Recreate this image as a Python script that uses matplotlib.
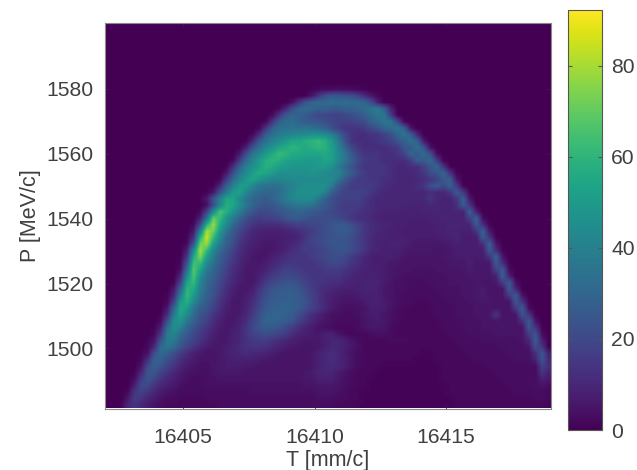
import matplotlib
matplotlib.use("Agg")
import matplotlib.pyplot as plt
import numpy as np

plt.rcParams['font.family'] = ['Liberation Sans', 'DejaVu Sans']

W, H = 637, 470
x_limits = [16402, 16419]
y_limits = [1481.5, 1600.3]
x_ticks = [16405, 16410, 16415]
y_ticks = [1500, 1520, 1540, 1560, 1580]
cbar_ticks = [0, 20, 40, 60, 80]
color_max = 92.3

# counts per bin, top row first; rows are padded with zeros to the right
p10 = [0]*31 + [1,2,3,3,4,3,3,2,1]
p11 = [0]*30 + [1,5,14,22,26,25,24,22,18,12,6,2]
p12 = [0]*28 + [4,14,24,30,32,32,33,32,33,32,32,30,22,8,1]
p13 = [0]*26 + [2,10,22,30,32,30,28,28,26,26,28,28,30,32,36,38,28,10]
p14 = [0]*25 + [3,14,26,30,28,26,22,20,20,18,18,20,22,24,28,32,36,38,22,4]
p15 = [0]*24 + [2,14,28,32,32,30,26,26,24,22,20,18,18,18,20,22,28,32,38,38,18,2]
p16 = [0]*23 + [2,14,28,34,34,36,34,36,34,32,28,22,18,14,14,14,16,20,24,30,34,34,14,2]
p17 = [0]*22 + [2,12,28,34,38,40,42,44,44,46,46,44,40,30,20,14,12,12,14,14,18,22,28,36,32,12,1]
p18 = [0]*21 + [1,10,26,34,40,44,50,54,54,58,60,62,58,50,38,24,14,12,12,12,14,16,18,24,32,34,10,1]
p19 = [0]*20 + [1,8,24,34,42,48,54,56,60,58,56,58,60,58,52,42,30,20,14,12,12,12,12,14,16,24,34,28,6]
p20 = [0]*20 + [6,22,36,42,50,56,62,60,56,56,54,54,54,56,52,44,36,26,18,14,14,14,12,12,14,18,30,32,16,2]
p21 = [0]*19 + [2,16,32,42,50,58,60,58,54,52,52,50,50,50,54,52,44,36,28,20,16,14,14,12,12,12,12,16,28,30,10,1]
p22 = [0]*18 + [1,12,28,40,46,52,58,56,52,50,48,48,48,48,50,50,46,38,30,24,18,14,14,14,14,12,10,10,12,12,18,26,26,6]
p23 = [0]*18 + [6,22,36,44,52,56,54,50,46,46,46,46,46,48,46,44,42,42,34,26,20,16,14,14,14,12,10,10,10,12,14,22,28,14,1]
p24 = [0]*17 + [2,16,32,42,50,54,48,44,42,42,42,44,44,44,44,44,44,44,36,26,20,16,16,14,14,12,12,10,10,10,10,12,14,24,24,6,1]
p25 = [0]*16 + [1,10,28,40,50,50,42,36,34,34,34,38,40,44,46,46,46,46,38,26,20,16,16,16,16,14,12,10,10,10,10,12,14,22,26,12,1]
p26 = [0]*15 + [1,6,24,38,50,52,42,36,32,30,30,32,38,42,46,46,46,46,40,28,22,18,18,18,18,14,12,10,10,10,10,10,10,10,12,16,24,22,6]
p27 = [0]*14 + [1,6,24,40,54,54,44,36,30,28,26,30,34,38,42,44,44,44,36,28,22,18,18,18,18,14,12,10,10,10,10,10,10,10,10,14,20,24,8,1]
p28 = [0]*15 + [4,22,42,58,54,46,36,30,26,24,24,28,32,34,36,36,34,30,26,22,18,16,16,16,14,12,10,10,10,10,10,9,9,9,10,10,12,16,24,18,4]
p29 = [0]*14 + [2,18,44,66,58,48,38,30,24,20,20,22,24,26,28,30,28,26,24,22,20,18,16,16,14,12,12,10,9,9,9,8,8,8,9,9,10,12,20,22,8,1]
p30 = [0]*14 + [8,34,70,62,48,38,30,22,18,16,18,18,20,24,26,26,24,22,22,22,22,20,18,14,12,12,10,9,8,8,8,8,8,8,8,8,8,10,12,20,24,10,1]
p31 = [0]*13 + [2,20,58,78,56,44,32,24,18,14,12,12,12,12,14,16,18,18,20,20,22,24,26,26,22,18,14,12,10,10,9,8,8,7,7,7,8,8,8,10,12,22,24,6]
p32 = [0]*13 + [6,40,80,72,50,36,26,20,14,10,9,8,8,8,9,10,12,14,16,20,22,24,26,26,24,20,14,12,10,9,8,8,7,7,7,7,7,8,8,9,10,14,24,18,2]
p33 = [0]*12 + [1,12,58,85,62,44,30,24,16,12,9,8,7,7,7,8,8,10,14,18,20,22,24,24,24,22,18,14,11,9,9,8,8,8,7,7,7,7,7,8,8,10,16,24,12,1]
p34 = [0]*12 + [2,24,72,78,52,38,28,22,14,10,8,7,6,6,7,8,10,12,16,18,20,22,24,24,24,22,18,14,11,9,8,9,9,8,7,6,6,6,6,6,7,8,9,12,22,22,4]
p35 = [0]*12 + [8,44,80,62,42,32,24,18,12,9,7,6,5,6,7,9,12,14,16,16,18,20,22,24,24,22,18,14,10,9,8,8,8,7,6,6,6,6,5,5,6,7,8,8,14,26,14,1]
p36 = [0]*11 + [1,14,56,74,52,38,28,22,16,11,8,6,5,6,8,10,12,14,14,14,16,18,20,22,22,20,16,13,10,8,7,8,8,7,6,5,5,5,5,5,6,6,7,7,10,22,22,4,1]
p37 = [0]*11 + [2,24,64,62,44,34,26,20,14,10,7,6,6,7,10,12,14,15,14,14,14,16,18,20,20,18,14,12,9,8,7,7,6,6,5,5,5,5,5,5,5,6,6,6,8,18,26,10,1]
p38 = [0]*11 + [4,34,68,54,38,30,24,18,12,9,6,6,7,9,12,15,18,17,16,14,14,14,16,16,16,14,12,10,9,8,8,7,6,5,5,5,4,4,4,5,5,5,5,6,7,12,26,16,2]
p39 = [0]*11 + [10,44,66,46,34,28,22,16,11,8,6,6,8,12,16,18,20,20,18,16,14,14,14,14,14,12,10,9,8,8,8,7,6,5,4,4,4,4,4,4,4,5,5,5,6,8,24,20,4,1]
p40 = [0]*10 + [1,18,54,62,42,32,26,20,14,10,7,6,6,10,16,20,22,24,24,22,18,16,14,13,12,12,10,9,8,9,9,9,7,5,4,4,3,3,3,4,4,4,5,5,5,5,6,7,20,24,6,1]
p41 = [0]*10 + [6,30,60,56,40,30,24,18,12,8,6,6,8,14,20,24,26,26,26,24,20,16,13,11,10,9,8,8,8,9,9,8,6,5,4,4,3,3,3,3,4,4,4,4,5,5,6,7,16,26,10,1]
p42 = [0]*9 + [1,10,40,62,50,36,28,24,16,11,7,6,7,10,16,22,26,26,28,28,26,22,18,14,10,8,7,6,6,7,8,8,8,6,5,4,3,3,3,3,3,3,4,4,4,5,5,6,7,12,24,14,2,1]
p43 = [0]*9 + [2,18,50,58,44,32,26,20,14,9,6,6,8,12,18,24,26,28,28,28,26,24,18,14,10,7,6,5,5,5,7,8,8,7,5,4,3,3,2,2,3,3,3,4,4,4,5,5,6,6,8,24,18,4]
p44 = [0]*9 + [6,30,56,50,36,28,24,18,12,8,6,6,9,14,20,26,28,28,30,28,26,22,18,14,10,7,5,4,4,4,5,7,8,7,5,3,3,2,2,2,2,3,3,3,4,4,4,5,5,5,6,18,22,8,1]
p45 = [0]*8 + [1,12,38,54,44,32,24,20,14,10,7,6,7,10,16,22,28,30,30,28,26,22,16,12,9,6,4,4,3,3,4,6,7,7,5,4,3,2,2,2,2,2,3,3,3,4,4,4,5,5,6,14,24,12,1,1]
p46 = [0]*8 + [3,22,46,48,36,28,22,18,12,8,6,6,8,12,18,24,30,30,28,26,24,18,14,10,7,5,4,3,3,3,3,5,6,7,6,4,3,2,2,2,2,2,2,3,3,3,4,4,4,5,5,5,8,20,18,3,1]
p47 = [0]*7 + [1,8,32,46,40,30,24,18,14,10,7,6,7,9,14,20,24,26,26,24,20,16,12,9,7,5,4,3,2,2,2,3,5,6,6,5,3,2,2,2,2,2,2,2,3,3,3,4,4,4,5,5,5,6,18,22,6,1]
p48 = [0]*7 + [2,14,38,42,32,26,20,16,12,8,6,6,8,10,14,18,20,22,20,18,16,12,9,8,7,6,8,8,5,3,2,2,2,3,4,4,3,2,2,2,2,2,2,2,2,3,3,3,4,4,4,4,5,5,12,24,10,1]
p49 = [0]*6 + [1,5,24,38,38,28,22,18,14,10,7,6,6,8,10,13,15,16,16,14,12,10,8,7,6,6,6,8,10,10,8,5,3,2,2,2,2,3,3,3,2,2,2,2,2,2,2,3,3,3,3,4,4,4,4,5,8,22,14,2]
p50 = [0]*6 + [2,10,32,36,32,24,18,14,10,7,6,6,7,9,11,13,14,14,13,11,9,7,6,6,5,5,6,8,10,10,8,6,4,2,2,2,2,2,2,2,2,2,2,2,2,2,2,2,3,3,3,3,3,3,4,4,4,6,18,18,3]
p51 = [0]*5 + [1,4,22,32,28,22,16,12,8,6,5,5,6,8,9,10,11,10,10,9,7,6,5,5,5,5,6,8,10,12,10,7,5,3,2,2,2,2,2,2,2,2,2,1,1,2,2,2,2,2,3,3,3,3,3,3,4,4,5,14,20,6]
p52 = [0]*5 + [2,12,28,28,22,18,12,9,7,5,5,5,6,7,8,8,8,8,7,6,6,5,5,5,5,5,6,8,10,12,10,8,5,3,2,2,2,2,2,2,2,2,1,1,1,2,2,2,2,2,2,3,3,3,3,3,3,4,4,10,22,8]
p53 = [0]*5 + [5,20,28,24,18,14,10,7,5,4,4,5,6,7,7,7,6,6,5,5,5,5,5,5,5,5,6,8,10,11,10,8,5,3,2,2,2,1,1,1,1,1,1,1,1,1,2,2,2,2,2,2,2,3,3,3,3,3,3,6,14,6]
p54 = [0]*4 + [1,10,24,24,18,14,10,7,5,4,4,4,5,6,6,6,6,5,5,5,5,5,5,5,5,5,6,7,9,10,9,7,5,3,2,2,2,1,1,1,1,1,1,1,1,1,1,2,2,2,2,2,2,2,2,3,3,3,3,3,5,10,6]
p55 = [0]*4 + [3,16,24,20,14,10,8,6,4,3,3,4,4,5,5,5,5,5,5,5,5,5,5,5,5,5,6,6,8,8,8,6,4,3,2,2,1,1,1,1,1,1,1,1,1,1,1,2,2,2,2,2,2,2,2,2,3,3,3,3,3,6,6]
p56 = [0]*4 + [8,20,20,14,10,8,6,4,3,3,3,4,4,4,4,4,4,4,4,4,4,4,4,4,4,4,5,5,6,6,6,5,4,3,2,2,1,1,1,1,1,1,1,1,1,1,1,1,2,2,2,2,2,2,2,2,2,3,3,3,3,4,5,3]
p57 = [0]*3 + [2,14,18,14,10,7,5,4,3,3,3,3,3,3,3,3,3,3,3,4,4,4,4,4,4,4,4,4,4,5,5,5,4,3,2,2,1,1,1,1,1,1,1,1,1,1,1,1,1,2,2,2,2,2,2,2,2,2,2,3,3,3,3,3,2]
p58 = [0]*3 + [6,16,14,10,7,5,3,3,2,2,2,2,3,3,3,3,3,3,3,3,3,3,3,3,3,3,3,3,3,4,4,4,3,3,2,2,1,1,1,1,1,1,1,1,1,1,1,1,1,1,2,2,2,2,2,2,2,2,2,2,2,2,3,3,2]
p59 = [0]*2 + [1,10,14,10,7,5,3,2,2,2,2,2,2,2,2,3,3,3,3,3,3,3,3,3,3,3,3,3,3,3,3,3,3,2,2,2,1,1,1,1,1,1,1,1,1,1,1,1,1,1,1,2,2,2,2,2,2,2,2,2,2,2,2,2,2,1]

# the thin right-hand ridge, bin by bin: (row, first column, counts); everything right of it is empty
ridge_bins = [
    (14,41,[36,36,16,1]), (15,42,[36,36,20,2]), (16,43,[32,36,28,5]), (17,44,[30,36,28,10]),
    (18,45,[28,34,28,6]), (19,46,[26,34,24,4]), (20,47,[26,32,22,3]), (21,48,[26,32,16,1]),
    (22,49,[24,30,14,1]), (23,50,[24,30,14,1]), (24,50,[18,26,28,6]), (25,51,[20,28,16,1]),
    (26,50,[10,10,14,26,16,1]), (27,50,[10,9,9,14,28,6]), (28,51,[9,9,12,26,14,1]),
    (29,51,[9,9,10,8,28,8]), (30,52,[9,9,9,18,28,3]), (31,53,[9,9,9,26,12,1]),
    (32,53,[9,8,8,14,28,6]), (33,54,[7,7,7,26,14,1]), (34,54,[7,7,7,12,28,6]),
    (35,55,[7,7,7,26,12,1]), (36,55,[7,7,7,14,28,5]), (37,56,[6,6,6,26,12,1]),
    (38,56,[6,6,6,18,26,3]), (39,56,[6,6,6,8,28,8]), (40,57,[5,5,6,16,26,4]),
    (41,58,[5,5,5,26,10]), (42,58,[5,5,5,16,26,4]), (43,59,[5,5,5,24,14,1]),
    (44,59,[5,5,5,16,26,3]), (45,60,[5,5,5,24,14,1]), (46,60,[5,5,5,12,26,5]),
    (47,61,[5,5,5,24,14,1]), (48,61,[5,5,5,16,24,3]), (49,61,[4,4,5,10,26,8]),
    (50,61,[4,4,4,6,22,14]), (51,62,[4,4,4,12,24,8]), (52,62,[4,4,4,8,24,10]),
    (53,63,[3,3,3,18,12]), (54,63,[3,3,3,14,8]), (55,63,[3,3,3,8,6]),
]

n_cols = 68
blank_rows = [[0]*n_cols for _ in range(10)]
rows = blank_rows + [p10,p11,p12,p13,p14,p15,p16,p17,p18,p19,
                     p20,p21,p22,p23,p24,p25,p26,p27,p28,p29,
                     p30,p31,p32,p33,p34,p35,p36,p37,p38,p39,
                     p40,p41,p42,p43,p44,p45,p46,p47,p48,p49,
                     p50,p51,p52,p53,p54,p55,p56,p57,p58,p59]
counts = np.array([(r + [0]*n_cols)[:n_cols] for r in rows], dtype=float)
for r, c, vals in ridge_bins:
    vals = vals[:n_cols - c]
    counts[r, c:] = 0
    counts[r, c:c+len(vals)] = vals

fig = plt.figure(figsize=(W/100, H/100), dpi=100)
def box(l, t, r, b):
    return [l/W, 1-b/H, (r-l)/W, (b-t)/H]

text_c = '#404040'
edge_c = '#8a8a8a'
fs = 15.2
ax = fig.add_axes(box(104.5, 23, 551, 408.5))
im = ax.imshow(counts, cmap='viridis', vmin=0, vmax=color_max, aspect='auto',
               interpolation='bilinear',
               extent=[x_limits[0], x_limits[1], y_limits[0], y_limits[1]])
ax.set_xticks(x_ticks)
ax.set_yticks(y_ticks)
ax.set_xticklabels([str(v) for v in x_ticks])
ax.set_yticklabels([str(v) for v in y_ticks])
ax.tick_params(axis='x', direction='in', length=3, width=0.6, labelcolor=text_c, labelsize=fs,
               color='#3a1a55', top=True, pad=14)
ax.tick_params(axis='y', direction='in', length=3, width=0.6, labelcolor=text_c, labelsize=fs,
               color='#3a1a55', right=True, pad=8)
ax.set_xlabel('T [mm/c]', fontsize=15.5, color=text_c, labelpad=2.5)
ax.set_ylabel('P [MeV/c]', fontsize=15.5, color=text_c, labelpad=4)
for s in ax.spines.values():
    s.set_color(edge_c)
    s.set_linewidth(0.8)

cax = fig.add_axes(box(568, 10, 602, 430))
cb = fig.colorbar(im, cax=cax, ticks=cbar_ticks)
cb.ax.tick_params(direction='in', length=3, width=0.8, labelcolor=text_c, labelsize=fs,
                  color='#555555', left=True, right=True, pad=6.5)
cb.outline.set_edgecolor('#555555')
cb.outline.set_linewidth(0.8)

fig.savefig('out.png', dpi=100)
